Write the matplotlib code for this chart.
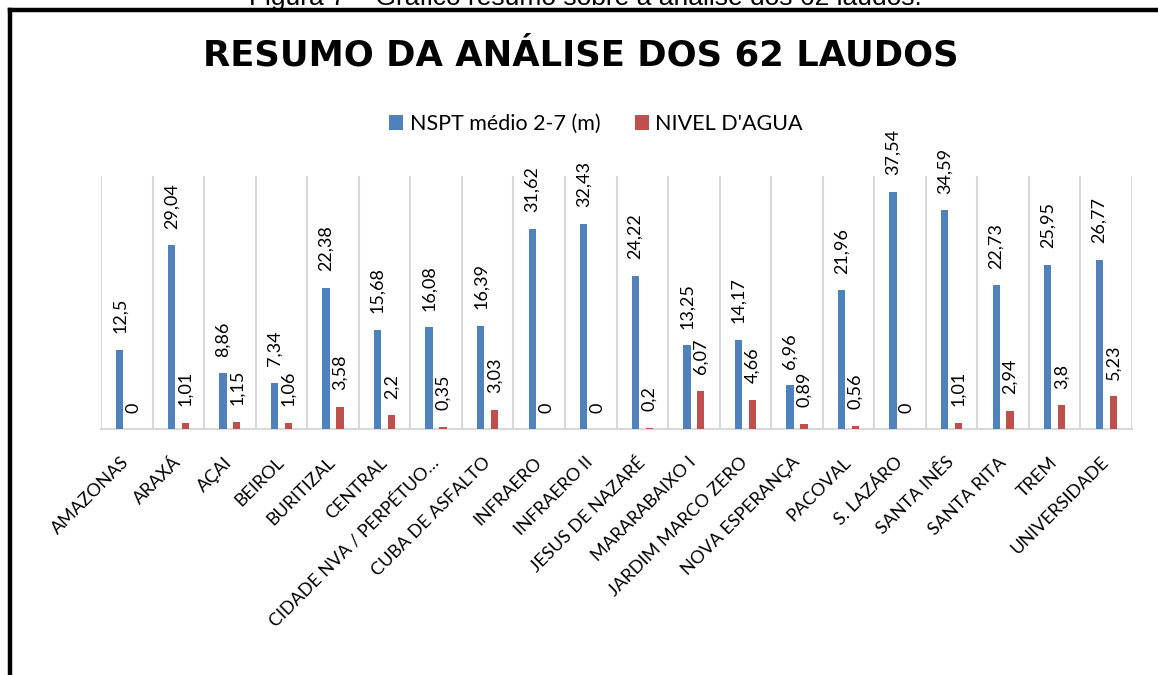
import matplotlib
matplotlib.use("Agg")
import matplotlib.pyplot as plt
from matplotlib.lines import Line2D
import numpy as np

categories = ["AMAZONAS", "ARAXÁ", "AÇAI", "BEIROL", "BURITIZAL", "CENTRAL",
              "CIDADE NVA / PERPÉTUO…", "CUBA DE ASFALTO", "INFRAERO", "INFRAERO II",
              "JESUS DE NAZARÉ", "MARARABAIXO I", "JARDIM MARCO ZERO", "NOVA ESPERANÇA",
              "PACOVAL", "S. LAZÁRO", "SANTA INÊS", "SANTA RITA", "TREM", "UNIVERSIDADE"]
nspt = [12.5, 29.04, 8.86, 7.34, 22.38, 15.68, 16.08, 16.39, 31.62, 32.43,
        24.22, 13.25, 14.17, 6.96, 21.96, 37.54, 34.59, 22.73, 25.95, 26.77]
nivel = [0, 1.01, 1.15, 1.06, 3.58, 2.2, 0.35, 3.03, 0, 0,
         0.2, 6.07, 4.66, 0.89, 0.56, 0, 1.01, 2.94, 3.8, 5.23]
series_names = ["NSPT médio 2-7 (m)", "NIVEL D'AGUA"]
title = "RESUMO DA ANÁLISE DOS 62 LAUDOS"
caption = "Figura 7 – Gráfico resumo sobre a análise dos 62 laudos."

BLUE = "#4F81BD"
RED = "#C0504D"
GRID = "#D9D9D9"
FONT = ["Lato", "DejaVu Sans"]

plt.rcParams["font.family"] = FONT

W, H = 1158, 675
fig = plt.figure(figsize=(W / 100, H / 100), dpi=100)
ax = fig.add_axes([101 / W, 1 - 429.3 / H, (1132 - 101) / W, (429.3 - 176) / H])

x = np.arange(len(categories))
bw = 0.142
off = 0.135
b1 = ax.bar(x - off, nspt, bw, color=BLUE, label=series_names[0], zorder=3)
b2 = ax.bar(x + off, nivel, bw, color=RED, label=series_names[1], zorder=3)

fmt = lambda v: f"{v:g}".replace(".", ",")
for cont, vals in ((b1, nspt), (b2, nivel)):
    ax.bar_label(cont, labels=[fmt(v) for v in vals], rotation=90, padding=12,
                 fontsize=13, color="#000000", family=FONT)

ax.set_xlim(-0.5, len(categories) - 0.5)
ax.set_ylim(0, 40)
ax.set_yticks([])
ax.set_xticks(x)
ax.set_xticklabels(categories, rotation=45, ha="right", va="center",
                   rotation_mode="anchor", fontsize=13, family=FONT)
ax.tick_params(axis="x", length=0, pad=22)
ax.set_xticks(np.arange(len(categories) + 1) - 0.5, minor=True)
ax.tick_params(axis="x", which="minor", length=0)
ax.grid(True, axis="x", which="minor", color=GRID, linewidth=1.5, zorder=0)
ax.grid(False, axis="x", which="major")
for s in ("top", "right", "left"):
    ax.spines[s].set_visible(False)
ax.spines["bottom"].set_color(GRID)
ax.spines["bottom"].set_linewidth(1.5)

fig.text(581 / W, 1 - 56 / H, title, ha="center", va="center",
         fontsize=25.5, fontweight="bold", family=["DejaVu Sans"])

fig.legend(handles=[b1, b2], labels=series_names, loc="center",
           bbox_to_anchor=(596 / W, 1 - 124 / H), ncol=2, frameon=False,
           handlelength=0.65, handleheight=0.65, handletextpad=0.3,
           columnspacing=1.6, prop={"family": FONT, "size": 15.5})

fig.text(585 / W, 1 - 4.5 / H, caption, ha="center", va="baseline",
         fontsize=19, family=["Liberation Sans", "DejaVu Sans"])

fig.add_artist(Line2D([9.5 / W, 1.0], [1 - 10 / H, 1 - 10 / H],
                      transform=fig.transFigure, color="black", linewidth=3.2))
fig.add_artist(Line2D([9.5 / W, 9.5 / W], [1 - 10 / H, 0.0],
                      transform=fig.transFigure, color="black", linewidth=3.2))

fig.savefig("out.png", dpi=100)
